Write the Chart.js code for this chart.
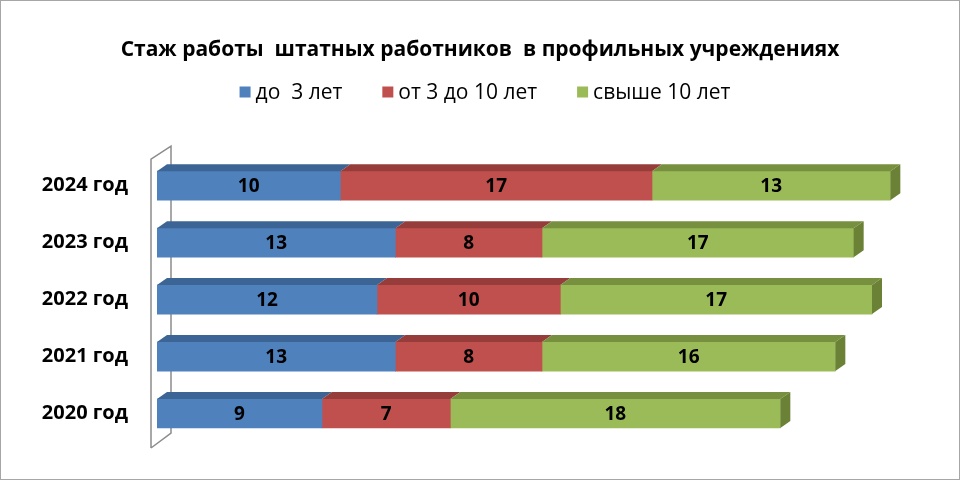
<!DOCTYPE html>
<html lang="ru">
<head>
    <meta charset="UTF-8">
    <title>Стаж работы штатных работников</title>
    <script src="https://cdn.jsdelivr.net/npm/chart.js"></script>
    <style>
        html, body { margin: 0; padding: 0; background: #fff; }
        #wrap { width: 960px; height: 480px; }
    </style>
</head>
<body>
    <div id="wrap"><canvas id="stazhChart" width="960" height="480"></canvas></div>
    <script>
        var years = ['2024 год', '2023 год', '2022 год', '2021 год', '2020 год'];
        var seriesNames = ['до  3 лет', 'от 3 до 10 лет', 'свыше 10 лет'];
        var upTo3 = [10, 13, 12, 13, 9];
        var from3to10 = [17, 8, 10, 8, 7];
        var over10 = [13, 17, 17, 16, 18];

        var frontColors = ['#4F81BD', '#C0504D', '#9BBB59'];
        var topColors = ['#3C6494', '#963D3B', '#779040'];
        var sideColor = '#6A8136';
        var depthX = 10, depthY = 7;
        var fontFamily = '"Open Sans", "DejaVu Sans", sans-serif';

        // back wall, 3D faces, value labels, legend and frame
        var bar3d = {
            id: 'bar3d',
            beforeDatasetsDraw: function (chart) {
                var a = chart.chartArea;
                var ctx = chart.ctx;
                ctx.save();
                ctx.strokeStyle = '#8c8c8c';
                ctx.lineWidth = 1.5;
                ctx.beginPath();
                ctx.moveTo(a.left - 6, a.bottom + 6);
                ctx.lineTo(a.left - 6, a.top + 2);
                ctx.lineTo(a.left + 14, a.top - 11);
                ctx.lineTo(a.left + 14, a.bottom - 9);
                ctx.lineTo(a.left - 6, a.bottom + 6);
                ctx.stroke();
                ctx.restore();
            },
            afterDatasetsDraw: function (chart) {
                var ctx = chart.ctx;
                var last = chart.data.datasets.length - 1;
                ctx.save();
                chart.data.datasets.forEach(function (ds, di) {
                    chart.getDatasetMeta(di).data.forEach(function (bar) {
                        var p = bar.getProps(['x', 'y', 'base', 'height'], true);
                        var top = p.y - p.height / 2;
                        var bottom = p.y + p.height / 2;
                        ctx.fillStyle = topColors[di];
                        ctx.beginPath();
                        ctx.moveTo(p.base, top);
                        ctx.lineTo(p.x, top);
                        ctx.lineTo(p.x + depthX, top - depthY);
                        ctx.lineTo(p.base + depthX, top - depthY);
                        ctx.closePath();
                        ctx.fill();
                        if (di === last) {
                            ctx.fillStyle = sideColor;
                            ctx.beginPath();
                            ctx.moveTo(p.x, top);
                            ctx.lineTo(p.x + depthX, top - depthY);
                            ctx.lineTo(p.x + depthX, bottom - depthY);
                            ctx.lineTo(p.x, bottom);
                            ctx.closePath();
                            ctx.fill();
                        }
                    });
                });
                ctx.fillStyle = '#000';
                ctx.font = 'bold 19px ' + fontFamily;
                ctx.textAlign = 'center';
                ctx.textBaseline = 'middle';
                chart.data.datasets.forEach(function (ds, di) {
                    chart.getDatasetMeta(di).data.forEach(function (bar, i) {
                        var p = bar.getProps(['x', 'y', 'base'], true);
                        ctx.fillText(String(ds.data[i]), (p.x + p.base) / 2, p.y + 1);
                    });
                });
                ctx.restore();
            },
            afterDraw: function (chart) {
                var ctx = chart.ctx;
                ctx.save();
                // legend row
                var box = 11, gap = 5, between = 40, legendY = 92;
                ctx.font = '21px ' + fontFamily;
                ctx.textBaseline = 'middle';
                ctx.textAlign = 'left';
                var widths = seriesNames.map(function (t) { return ctx.measureText(t).width; });
                var total = widths.reduce(function (s, w) { return s + box + gap + w; }, 0) + between * (seriesNames.length - 1);
                var x = 485 - total / 2;
                seriesNames.forEach(function (name, i) {
                    ctx.fillStyle = frontColors[i];
                    ctx.fillRect(x, legendY - box / 2, box, box);
                    ctx.fillStyle = '#000';
                    ctx.fillText(name, x + box + gap, legendY + 1);
                    x += box + gap + widths[i] + between;
                });
                ctx.strokeStyle = '#a6a6a6';
                ctx.lineWidth = 1;
                ctx.strokeRect(0.5, 0.5, chart.width - 1, chart.height - 1);
                ctx.restore();
            }
        };

        var valueSets = [upTo3, from3to10, over10];

        new Chart(document.getElementById('stazhChart'), {
            type: 'bar',
            data: {
                labels: years,
                datasets: seriesNames.map(function (name, i) {
                    return {
                        label: name,
                        data: valueSets[i],
                        backgroundColor: frontColors[i],
                        borderWidth: 0,
                        barThickness: 29
                    };
                })
            },
            options: {
                indexAxis: 'y',
                responsive: false,
                animation: false,
                layout: { padding: { left: 0, right: 0, top: 0, bottom: 38 } },
                scales: {
                    x: {
                        stacked: true,
                        min: 0,
                        max: 43.8,
                        display: false
                    },
                    y: {
                        stacked: true,
                        grid: { display: false },
                        border: { display: false },
                        ticks: {
                            color: '#000',
                            padding: 21,
                            font: { family: fontFamily, size: 20, weight: 'bold' }
                        },
                        afterFit: function (scale) { scale.width = 157; }
                    }
                },
                plugins: {
                    tooltip: { enabled: false },
                    legend: { display: false },
                    title: {
                        display: true,
                        text: 'Стаж работы  штатных работников  в профильных учреждениях',
                        color: '#000',
                        font: { family: fontFamily, size: 21, weight: 'bold' },
                        padding: { top: 37, bottom: 95 }
                    }
                }
            },
            plugins: [bar3d]
        });
    </script>
</body>
</html>
